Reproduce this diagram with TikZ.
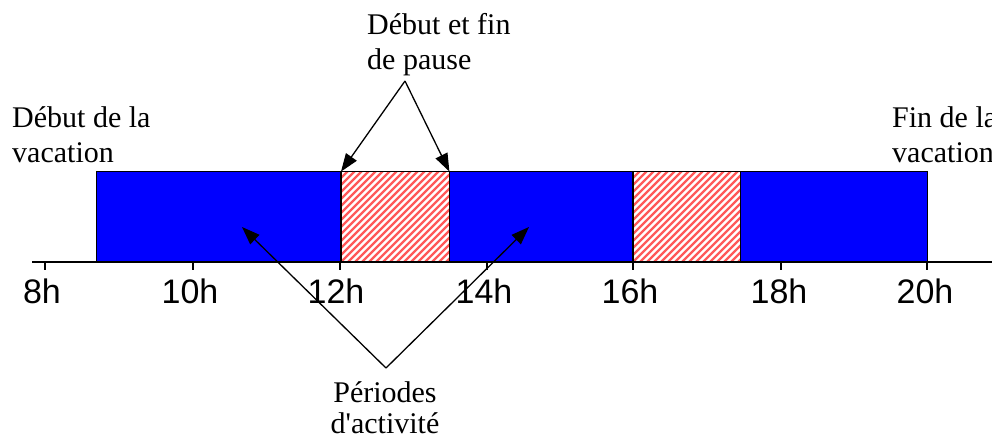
\documentclass[tikz,border=0pt]{standalone}
\usepackage{fontspec}
\setmainfont{Liberation Serif}
\newfontfamily\hourfont{Liberation Sans}
\usetikzlibrary{arrows.meta,calc}
\tikzset{
  lbl/.style={font=\fontsize{30}{34}\selectfont, inner sep=0pt, anchor=base west},
  lblc/.style={font=\fontsize{30}{34}\selectfont, inner sep=0pt, anchor=base},
  hour/.style={font=\hourfont\fontsize{34}{38}\selectfont, inner sep=0pt, anchor=base},
  work/.style={draw=black, line width=1.3pt, fill=blue, inner sep=0pt, minimum height=90pt, anchor=south west},
  pausebox/.style={inner sep=0pt, minimum height=90pt, anchor=south west},
  hatchline/.style={draw=red!65, line width=2.2pt},
  axisline/.style={line width=1.4pt},
  tickline/.style={line width=1.3pt},
  pointer/.style={line width=1.3pt, -{Triangle[length=18pt,width=13pt]}}
}
\begin{document}
\begin{tikzpicture}[x=1pt,y=-1pt]
\useasboundingbox (0,0) rectangle (992,441);
% axis
\coordinate (axL) at (32,262);
\coordinate (axR) at (1000,262);
\draw[axisline] (axL) -- (axR);
% boxes
\node[work, minimum width=245pt] (a1) at (96,262) {};
\node[pausebox, minimum width=108pt] (p1) at (341,262) {};
\node[work, minimum width=184pt] (a2) at (449,262) {};
\node[pausebox, minimum width=107pt] (p2) at (633,262) {};
\node[work, minimum width=187pt] (a3) at (740,262) {};
% hatching
\foreach \p in {p1,p2}{
  \begin{scope}
    \clip (\p.south west) rectangle (\p.north east);
    \foreach \i in {-112,-105,...,120}
      \draw[hatchline] ($(\p.south west)+(\i,0)$) -- ++(120,-120);
  \end{scope}
  \draw[line width=1.3pt] (\p.south west) rectangle (\p.north east);
}
% ticks
\foreach \x/\n in {45/t8,193/t10,340/t12,487/t14,633/t16,781/t18,927/t20}{
  \coordinate (\n) at (\x,262);
  \draw[tickline] (\n) -- ++(0,8);
}
% hour labels
\node[hour] (h8) at (42,303) {8h};
\node[hour] (h10) at (190,303) {10h};
\node[hour] (h12) at (336,303) {12h};
\node[hour] (h14) at (484,303) {14h};
\node[hour] (h16) at (630,303) {16h};
\node[hour] (h18) at (779,303) {18h};
\node[hour] (h20) at (925,303) {20h};
% text labels
\node[lbl] (deb1) at (12,128) {Début de la};
\node[lbl] (deb2) at (12,162) {vacation};
\node[lbl] (fin1) at (892,128) {Fin de la};
\node[lbl] (fin2) at (892,162) {vacation};
\node[lbl] (pau1) at (367,35) {Début et fin};
\node[lbl] (pau2) at (367,70) {de pause};
\node[lblc] (per1) at (385,402) {Périodes};
\node[lblc] (per2) at (385,433) {d\textquotesingle activité};
% pointers
\coordinate (pauseapex) at (405,81);
\draw[pointer] (pauseapex) -- (p1.north west);
\draw[pointer] (pauseapex) -- (p1.north east);
\coordinate (actapex) at (386,368);
\coordinate (tipA) at (242,227);
\coordinate (tipB) at (529,227);
\draw[pointer] (actapex) -- (tipA);
\draw[pointer] (actapex) -- (tipB);
\end{tikzpicture}
\end{document}
